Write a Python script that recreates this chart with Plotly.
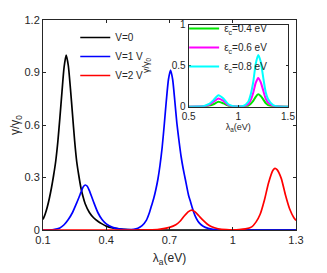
import plotly.graph_objects as go

# ---------------- main panel data ----------------
x_v0 = [0.10,0.11,0.12,0.13,0.14,0.15,0.16,0.17,0.18,0.19,0.20,0.21,0.22,0.23,0.24,0.25,0.26,0.27,0.28,0.29,0.30,0.32,0.34,0.36,0.38,0.40,0.43,0.46,0.50,0.55,0.60,0.70,0.80,0.90,1.00,1.10,1.20,1.30]
y_v0 = [0.06,0.09,0.13,0.18,0.24,0.31,0.39,0.50,0.64,0.79,0.93,1.00,0.94,0.81,0.66,0.51,0.39,0.31,0.24,0.19,0.15,0.10,0.07,0.05,0.035,0.022,0.012,0.007,0.003,0.001,0.0,0.0,0.0,0.0,0.0,0.0,0.0,0.0]

x_v1 = [0.10,0.15,0.18,0.20,0.22,0.24,0.26,0.28,0.29,0.30,0.31,0.32,0.34,0.36,0.38,0.40,0.43,0.46,0.50,0.53,0.55,0.57,0.59,0.605,0.615,0.625,0.635,0.645,0.655,0.665,0.675,0.685,0.695,0.705,0.715,0.725,0.735,0.745,0.755,0.765,0.775,0.79,0.80,0.81,0.82,0.835,0.85,0.87,0.90,0.95,1.00,1.10,1.20,1.30]
y_v1 = [0.0,0.003,0.012,0.03,0.06,0.10,0.155,0.215,0.245,0.257,0.25,0.225,0.16,0.10,0.06,0.035,0.015,0.006,0.002,0.004,0.01,0.025,0.055,0.10,0.14,0.18,0.23,0.29,0.37,0.47,0.60,0.74,0.86,0.914,0.86,0.74,0.61,0.51,0.42,0.35,0.29,0.20,0.16,0.12,0.085,0.05,0.03,0.015,0.005,0.001,0.0,0.0,0.0,0.0]

x_v2 = [0.10,0.30,0.50,0.60,0.65,0.70,0.73,0.75,0.77,0.79,0.805,0.82,0.84,0.86,0.88,0.90,0.93,0.97,1.00,1.03,1.06,1.09,1.11,1.13,1.15,1.17,1.19,1.20,1.21,1.23,1.25,1.27,1.29,1.30]
y_v2 = [0.0,0.0,0.0,0.001,0.004,0.015,0.03,0.05,0.08,0.105,0.114,0.105,0.08,0.055,0.033,0.018,0.007,0.002,0.001,0.002,0.006,0.018,0.045,0.09,0.17,0.27,0.34,0.352,0.345,0.295,0.20,0.12,0.07,0.055]

main_names = ["V=0", "V=1 V", "V=2 V"]
main_colors = ["#000000", "#0000ff", "#ff0000"]

main_xticks = [0.1, 0.4, 0.7, 1.0, 1.3]
main_xticklabels = ["0.1", "0.4", "0.7", "1", "1.3"]
main_yticks = [0, 0.3, 0.6, 0.9, 1.2]
main_yticklabels = ["0", "0.3", "0.6", "0.9", "1.2"]

# ---------------- inset data ----------------
x_in = [0.50,0.60,0.65,0.70,0.75,0.80,0.85,0.90,0.95,1.00,1.05,1.10,1.125,1.15,1.175,1.20,1.225,1.25,1.275,1.30,1.35,1.40,1.50]
y_e04 = [0.0,0.0,0.002,0.01,0.03,0.06,0.04,0.01,0.002,0.0,0.002,0.012,0.035,0.07,0.12,0.15,0.13,0.09,0.045,0.02,0.004,0.001,0.0]
y_e06 = [0.0,0.001,0.005,0.02,0.06,0.10,0.07,0.02,0.005,0.001,0.005,0.03,0.08,0.17,0.29,0.35,0.30,0.20,0.10,0.05,0.01,0.002,0.0]
y_e08 = [0.0,0.001,0.007,0.03,0.08,0.14,0.10,0.03,0.007,0.001,0.008,0.06,0.15,0.30,0.52,0.63,0.55,0.36,0.18,0.09,0.02,0.004,0.0]

inset_names = ["ε<sub>c</sub>=0.4 eV", "ε<sub>c</sub>=0.6 eV", "ε<sub>c</sub>=0.8 eV"]
inset_colors = ["#00e600", "#ff00ff", "#00ffff"]
inset_xticks = [0.5, 1.0, 1.5]
inset_xticklabels = ["0.5", "1", "1.5"]
inset_yticks = [0, 0.5, 1.0]
inset_yticklabels = ["0", "0.5", "1"]

FONT = "Liberation Sans, Arial, sans-serif"
TXT = "#262626"

fig = go.Figure()
for xs, ys, nm, col in zip([x_v0, x_v1, x_v2], [y_v0, y_v1, y_v2], main_names, main_colors):
    fig.add_trace(go.Scatter(x=xs, y=ys, name=nm, mode="lines",
                             line=dict(color=col, width=1.7, shape="spline", smoothing=0.6),
                             xaxis="x", yaxis="y", legend="legend"))

for ys, nm, col in zip([y_e04, y_e06, y_e08], inset_names, inset_colors):
    fig.add_trace(go.Scatter(x=x_in, y=ys, name=nm, mode="lines",
                             line=dict(color=col, width=2, shape="spline", smoothing=0.6),
                             xaxis="x2", yaxis="y2", legend="legend2"))

# page has an 8px body margin: offset the figure so the plot area lands where it should
PAGE_OFF = 8
W, H = 327 - 2 * PAGE_OFF, 273 - PAGE_OFF
# desired plot area in page pixels
PX0, PX1, PY0, PY1 = 42.7, 296.0, 20.0, 230.0
pw, ph = PX1 - PX0, PY1 - PY0
ML = PX0 - PAGE_OFF
MT = PY0 - PAGE_OFF
MR = W - ML - pw
MB = H - MT - ph

def px2x(p):
    return (p - PX0) / pw

def py2y(p):
    return (PY1 - p) / ph

ix0, ix1 = px2x(188.5), px2x(288)
iy0, iy1 = py2y(106.7), py2y(24.5)

axis_common = dict(showgrid=False, zeroline=False, showline=True, linecolor="#262626",
                   linewidth=1, mirror="ticks", ticks="inside", tickcolor="#262626",
                   automargin=True)

fig.update_layout(
    width=W, height=H,
    margin=dict(l=ML, r=MR, t=MT, b=MB, autoexpand=False),
    paper_bgcolor="white", plot_bgcolor="white",
    font=dict(family=FONT, color=TXT, size=11),
    showlegend=True,
    xaxis=dict(range=[0.1, 1.3], tickvals=main_xticks, ticktext=main_xticklabels, ticklen=3,
               tickfont=dict(size=11, color=TXT),
               title=dict(text="λ<sub>a</sub>(eV)", font=dict(size=12, color=TXT), standoff=8),
               **axis_common),
    yaxis=dict(range=[0, 1.2], tickvals=main_yticks, ticktext=main_yticklabels, ticklen=3,
               tickfont=dict(size=11, color=TXT),
               title=dict(text="γ/γ<sub>0</sub>", font=dict(size=12, color=TXT), standoff=6),
               **axis_common),
    xaxis2=dict(domain=[ix0, ix1], anchor="y2", range=[0.5, 1.5], tickvals=inset_xticks,
                ticktext=inset_xticklabels, ticklen=2, tickfont=dict(size=10, color=TXT),
                title=dict(text="λ<sub>a</sub>(eV)", font=dict(size=9, color=TXT), standoff=1),
                **axis_common),
    yaxis2=dict(domain=[iy0, iy1], anchor="x2", range=[0, 1.0], tickvals=inset_yticks,
                ticktext=inset_yticklabels, ticklen=2, tickfont=dict(size=10, color=TXT),
                title=dict(text="γ/γ<sub>0</sub>", font=dict(size=9, color=TXT), standoff=20),
                **axis_common),
    legend=dict(x=px2x(75), y=py2y(23), xanchor="left", yanchor="top",
                bgcolor="rgba(0,0,0,0)", borderwidth=0, font=dict(size=10, color=TXT),
                tracegroupgap=0, itemwidth=30),
    legend2=dict(x=px2x(184), y=py2y(14), xanchor="left", yanchor="top",
                 bgcolor="rgba(0,0,0,0)", borderwidth=0, font=dict(size=10, color=TXT),
                 tracegroupgap=0, itemwidth=30),
)

fig.write_html("out.html")
